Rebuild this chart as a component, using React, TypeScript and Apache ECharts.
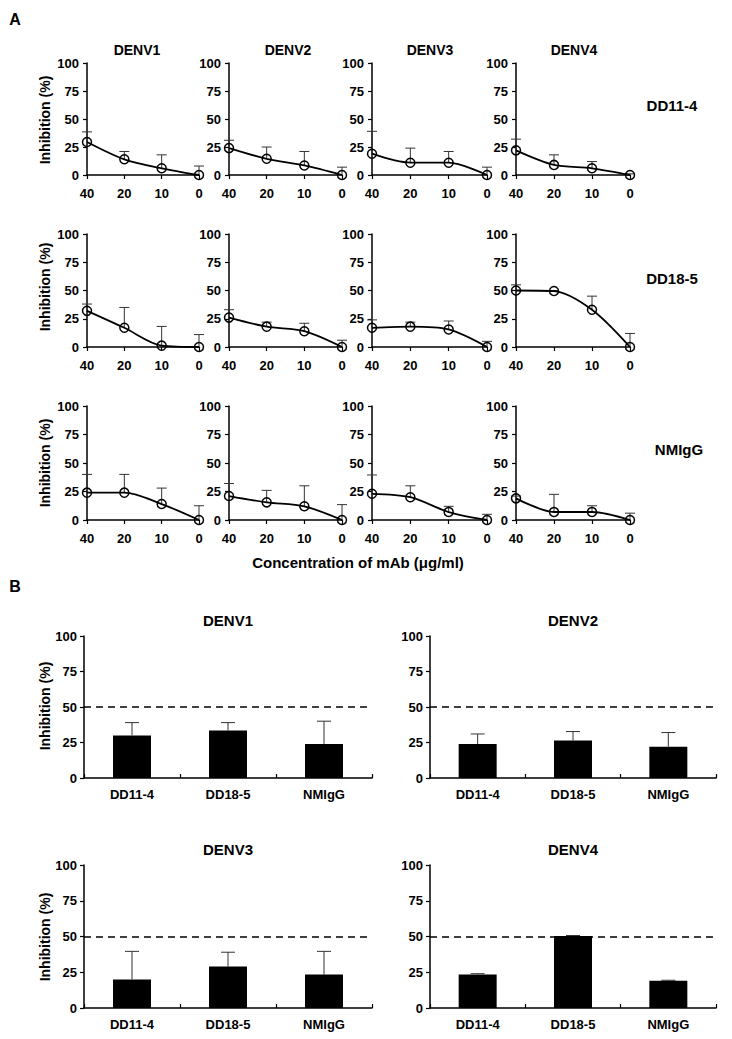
import React, { useEffect, useRef } from "react";
import * as echarts from "echarts";

const concLabels = ["40", "20", "10", "0"];
const serotypes = ["DENV1", "DENV2", "DENV3", "DENV4"];
const antibodies = ["DD11-4", "DD18-5", "NMIgG"];

// Panel A: inhibition (%) per serotype at 40, 20, 10, 0 µg/ml
const dd11Mean = [[29.5, 14, 6, 0], [24, 14.5, 8.5, 0], [19, 11, 11, 0], [22, 9, 6, 0]];
const dd11Err = [[9, 7, 12, 8], [7, 10.5, 12.5, 7], [20, 13, 10, 7], [10, 9, 6, 1]];
const dd18Mean = [[32, 17, 1.2, 0], [26, 18, 14, 0], [17, 18, 15.5, 0], [50, 49.5, 33, 0]];
const dd18Err = [[6, 18, 17, 11], [7, 4, 7, 6], [7, 4, 7.5, 5], [5, 0.5, 12, 12]];
const nmMean = [[24, 24, 14, 0], [21, 15.5, 12, 0], [23, 20, 7, 0], [19, 7, 7, 0]];
const nmErr = [[16, 16, 14, 12.5], [11, 10.5, 18, 13.5], [16.5, 10, 5, 5], [2, 15.5, 5.5, 6]];

// Panel B: inhibition (%) at 40 µg/ml per antibody
const barDENV1 = [30, 33.4, 24];
const barDENV1Err = [9, 5.6, 16];
const barDENV2 = [24, 26.4, 22];
const barDENV2Err = [7, 6.3, 10];
const barDENV3 = [20, 29, 23.4];
const barDENV3Err = [19.6, 10, 16.2];
const barDENV4 = [23.4, 50.3, 19];
const barDENV4Err = [0.6, 0.4, 0.4];

const yTicks = [0, 25, 50, 75, 100];
const threshold = 50;

const FONT = "'Liberation Sans', Arial, sans-serif";

export default function App() {
  const ref = useRef<HTMLDivElement>(null);
  useEffect(() => {
    document.body.style.margin = "0";
    const chart = echarts.init(ref.current!, null, { renderer: "svg" });

    const aMeans = [dd11Mean, dd18Mean, nmMean];
    const aErrs = [dd11Err, dd18Err, nmErr];
    const bMeans = [barDENV1, barDENV2, barDENV3, barDENV4];
    const bErrs = [barDENV1Err, barDENV2Err, barDENV3Err, barDENV4Err];

    const colLeft = [87, 229, 372, 516];
    const colWidth = [112, 113, 115, 114];
    const rowTop = [63, 234, 406];
    const rowHeight = [112, 113, 114];
    const bLeft = [84, 430];
    const bWidth = [288, 286];
    const bTop = [636, 865];
    const bHeight = [142, 143];

    const grids: any[] = [];
    const xAxes: any[] = [];
    const yAxes: any[] = [];
    const series: any[] = [];

    const yAxisBase = (gi: number, margin: number) => ({
      type: "value",
      gridIndex: gi,
      min: yTicks[0],
      max: yTicks[yTicks.length - 1],
      interval: yTicks[1] - yTicks[0],
      axisLine: { show: true, lineStyle: { color: "#000", width: 1.5 } },
      axisTick: { show: true, length: 4, lineStyle: { color: "#000", width: 1.2 } },
      splitLine: { show: false },
      axisLabel: { color: "#000", fontWeight: "bold", fontSize: 13, fontFamily: FONT, margin },
    });

    const errRender = (cap: number) => (params: any, api: any) => {
      const x = api.value(0);
      const lo = api.value(1);
      const hi = api.value(2);
      const p1 = api.coord([x, lo]);
      const p2 = api.coord([x, hi]);
      const style = { stroke: "#333", lineWidth: 1 };
      return {
        type: "group",
        children: [
          { type: "line", shape: { x1: p1[0], y1: p1[1], x2: p2[0], y2: p2[1] }, style },
          { type: "line", shape: { x1: p2[0] - cap, y1: p2[1], x2: p2[0] + cap, y2: p2[1] }, style },
        ],
      };
    };

    // Panel A
    for (let r = 0; r < 3; r++) {
      for (let c = 0; c < 4; c++) {
        const gi = r * 4 + c;
        grids.push({ left: colLeft[c], top: rowTop[r], width: colWidth[c], height: rowHeight[r] });
        xAxes.push({
          type: "category",
          gridIndex: gi,
          data: concLabels,
          boundaryGap: false,
          axisLine: { lineStyle: { color: "#000", width: 1.5 } },
          axisTick: { show: true, length: 4, alignWithLabel: true, lineStyle: { color: "#000", width: 1.2 } },
          axisLabel: { color: "#000", fontWeight: "bold", fontSize: 13, fontFamily: FONT, margin: 12 },
        });
        yAxes.push(yAxisBase(gi, 8));
        const mean = aMeans[r][c];
        const err = aErrs[r][c];
        series.push({
          type: "custom",
          xAxisIndex: gi,
          yAxisIndex: gi,
          renderItem: errRender(5),
          data: mean.map((m, i) => [i, m, m + err[i]]),
          z: 2,
        });
        series.push({
          type: "line",
          xAxisIndex: gi,
          yAxisIndex: gi,
          data: mean,
          smooth: 0.3,
          symbol: "circle",
          symbolSize: 9,
          lineStyle: { color: "#000", width: 1.8 },
          itemStyle: { color: "rgba(0,0,0,0)", borderColor: "#000", borderWidth: 1.5 },
          z: 3,
        });
      }
    }

    // Panel B
    for (let k = 0; k < 4; k++) {
      const gi = 12 + k;
      const row = Math.floor(k / 2);
      const col = k % 2;
      grids.push({ left: bLeft[col], top: bTop[row], width: bWidth[col], height: bHeight[row] });
      xAxes.push({
        type: "category",
        gridIndex: gi,
        data: antibodies,
        boundaryGap: true,
        axisLine: { lineStyle: { color: "#000", width: 1.5 } },
        axisTick: { show: true, inside: true, length: 4, lineStyle: { color: "#000", width: 1.2 } },
        axisLabel: { color: "#000", fontWeight: "bold", fontSize: 13, fontFamily: FONT, margin: 10 },
      });
      yAxes.push(yAxisBase(gi, 7));
      const mean = bMeans[k];
      const err = bErrs[k];
      series.push({
        type: "bar",
        xAxisIndex: gi,
        yAxisIndex: gi,
        data: mean,
        barWidth: 38,
        itemStyle: { color: "#000" },
        z: 2,
        markLine: {
          silent: true,
          symbol: ["none", "none"],
          label: { show: false },
          lineStyle: { color: "#000", type: [7, 5], width: 1.5 },
          data: [{ yAxis: threshold }],
        },
      });
      series.push({
        type: "custom",
        xAxisIndex: gi,
        yAxisIndex: gi,
        renderItem: errRender(7),
        data: mean.map((m, i) => [i, m, m + err[i]]),
        z: 3,
      });
    }

    const txt = (text: string, x: number, y: number, size: number, rot = 0) => ({
      type: "text",
      x,
      y,
      rotation: rot,
      style: {
        text,
        x: 0,
        y: 0,
        fill: "#000",
        font: `bold ${size}px ${FONT}`,
        textAlign: "center",
        textVerticalAlign: "middle",
      },
    });

    const aTitleX = [137, 288, 430, 574];
    const rowLabelX = [672, 672, 679];
    const rowLabelY = [105, 278, 449];
    const aYLabelY = [120, 287, 463];
    const bTitleX = [228, 573];
    const bTitleY = [620, 849];
    const bYLabelY = [706, 937];

    const graphics: any[] = [
      txt("A", 15, 19, 16),
      txt("B", 15, 586, 16),
      txt("Concentration of mAb (μg/ml)", 358, 562, 15),
    ];
    serotypes.forEach((s, i) => graphics.push(txt(s, aTitleX[i], 50, 14)));
    antibodies.forEach((a, i) => graphics.push(txt(a, rowLabelX[i], rowLabelY[i], 15)));
    aYLabelY.forEach((y) => graphics.push(txt("Inhibition (%)", 45, y, 14, Math.PI / 2)));
    serotypes.forEach((s, i) => graphics.push(txt(s, bTitleX[i % 2], bTitleY[Math.floor(i / 2)], 15)));
    bYLabelY.forEach((y) => graphics.push(txt("Inhibition (%)", 45, y, 14, Math.PI / 2)));

    chart.setOption({
      animation: false,
      backgroundColor: "#fff",
      textStyle: { fontFamily: FONT },
      grid: grids,
      xAxis: xAxes,
      yAxis: yAxes,
      series,
      graphic: graphics,
    });
    return () => chart.dispose();
  }, []);
  return <div ref={ref} style={{ width: 732, height: 1039 }} />;
}
